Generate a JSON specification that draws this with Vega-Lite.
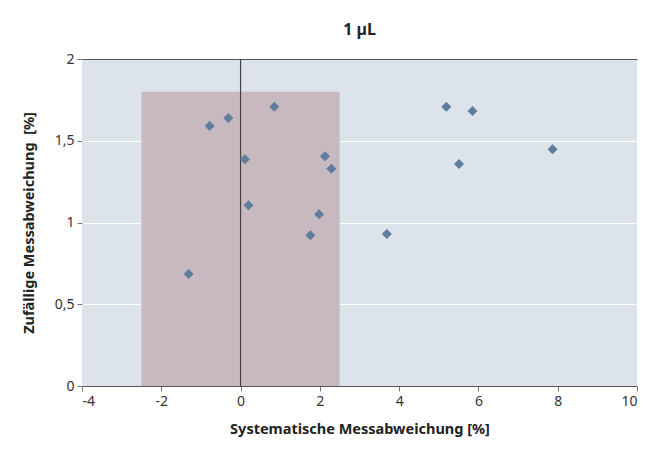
{
  "$schema": "https://vega.github.io/schema/vega-lite/v6.json",
  "width": 555,
  "height": 327,
  "autosize": {"type": "none"},
  "padding": {"left": 82, "top": 59, "right": 27, "bottom": 69},
  "background": "white",
  "title": {"text": "1 µL", "font": "Noto Sans", "fontSize": 16, "fontWeight": "bold", "color": "#222222", "anchor": "middle", "offset": 14},
  "config": {
    "view": {"fill": "#dce3ea", "stroke": null},
    "axis": {"labelFont": "Noto Sans", "titleFont": "Noto Sans", "labelFontSize": 14, "labelColor": "#333333", "titleFontSize": 14.5, "titleColor": "#222222", "titleFontWeight": "bold", "tickColor": "#777777", "tickSize": 5, "domainColor": "#555555"}
  },
  "datasets": {
    "points": [
      {"x": -1.31, "y": 0.685},
      {"x": -0.78, "y": 1.59},
      {"x": -0.31, "y": 1.639},
      {"x": 0.85, "y": 1.708},
      {"x": 0.11, "y": 1.387},
      {"x": 2.13, "y": 1.405},
      {"x": 2.29, "y": 1.329},
      {"x": 0.2, "y": 1.105},
      {"x": 1.98, "y": 1.05},
      {"x": 1.76, "y": 0.922},
      {"x": 3.69, "y": 0.93},
      {"x": 5.19, "y": 1.708},
      {"x": 5.85, "y": 1.682},
      {"x": 7.87, "y": 1.448},
      {"x": 5.51, "y": 1.358}
    ],
    "zone": [{"x1": -2.5, "x2": 2.5, "y1": 0, "y2": 1.8}],
    "zero": [{"x": 0}]
  },
  "layer": [
    {
      "data": {"name": "zone"},
      "mark": {"type": "rect", "color": "#c8b8bf"},
      "encoding": {
        "x": {"field": "x1", "type": "quantitative", "scale": {"domain": [-4, 10], "nice": false, "zero": false},
          "axis": {"title": "Systematische Messabweichung [%]", "values": [-4, -2, 0, 2, 4, 6, 8, 10], "grid": false, "titlePadding": 14, "labelPadding": 3, "labelExpr": "'' + datum.value"}},
        "x2": {"field": "x2"},
        "y": {"field": "y1", "type": "quantitative", "scale": {"domain": [0, 2], "nice": false},
          "axis": {"title": "Zufällige Messabweichung\u00a0\u00a0[%]", "values": [0, 0.5, 1, 1.5, 2], "domain": false,
            "labelExpr": "replace('' + datum.value, '.', ',')", "titlePadding": 18, "labelPadding": 3,
            "grid": true, "gridColor": {"condition": {"test": "datum.value === 2", "value": "#555555"}, "value": "#ffffff"}, "gridWidth": 1.2}},
        "y2": {"field": "y2"}
      }
    },
    {
      "data": {"name": "zero"},
      "mark": {"type": "rule", "color": "#444444", "strokeWidth": 1.2},
      "encoding": {"x": {"field": "x", "type": "quantitative"}}
    },
    {
      "data": {"name": "points"},
      "mark": {"type": "point", "shape": "diamond", "filled": true, "size": 100, "color": "#5f7d9c", "opacity": 1},
      "encoding": {
        "x": {"field": "x", "type": "quantitative"},
        "y": {"field": "y", "type": "quantitative"}
      }
    }
  ]
}
